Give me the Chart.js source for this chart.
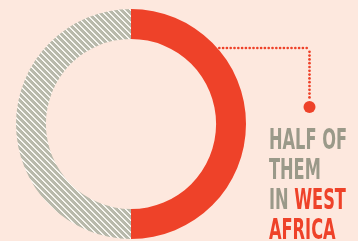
<!DOCTYPE html>
<html><head><meta charset="utf-8">
<script src="https://cdn.jsdelivr.net/npm/chart.js@4/dist/chart.umd.min.js"></script>
<style>html,body{margin:0;padding:0;background:#FDE8DE;}#wrap{width:358px;height:241px;position:relative;}</style>
</head><body><div id="wrap"><canvas id="c" width="358" height="241"></canvas></div>
<script>
const categories = ["West Africa", "Elsewhere"];
const values = [50, 50];
const labelLines = [["HALF OF"], ["THEM"], ["IN ", "WEST"], ["AFRICA"]];

const RED = "#EE4229";
const GRAY_TXT = "#9A9989";

function makeHatch(){
  const n = 6;
  const t = document.createElement("canvas"); t.width = n; t.height = n;
  const g = t.getContext("2d");
  const img = g.createImageData(n, n);
  for (let y = 0; y < n; y++) for (let x = 0; x < n; x++) {
    const k = ((x - y) % n + n) % n;
    let c = [184, 185, 171];
    if (k === 0) c = [253, 251, 247];
    else if (k === 1) c = [240, 239, 232];
    const i = (y * n + x) * 4;
    img.data[i] = c[0]; img.data[i+1] = c[1]; img.data[i+2] = c[2]; img.data[i+3] = 255;
  }
  g.putImageData(img, 0, 0);
  return g.createPattern(t, "repeat");
}

const annot = {
  id: "annot",
  afterDraw(chart) {
    const ctx = chart.ctx;
    const arc = chart.getDatasetMeta(0).data[0];
    const cx = arc.x, cy = arc.y, R = arc.outerRadius;
    ctx.save();
    const yH = 48, xEnd = 309.5, yEnd = 107;
    const xStart = cx + Math.sqrt(R * R - (cy - yH) * (cy - yH)) + 2;
    ctx.fillStyle = RED;
    const step = 3.8, r = 1.35;
    for (let x = xStart; x <= xEnd + 0.1; x += step) { ctx.beginPath(); ctx.arc(x, yH, r, 0, Math.PI * 2); ctx.fill(); }
    for (let y = yH + step; y <= yEnd - 6; y += step) { ctx.beginPath(); ctx.arc(xEnd, y, r, 0, Math.PI * 2); ctx.fill(); }
    ctx.beginPath(); ctx.arc(xEnd, yEnd, 6, 0, Math.PI * 2); ctx.fill();
    ctx.font = "bold 28px 'Liberation Sans Narrow', 'DejaVu Sans Condensed', 'Liberation Sans', sans-serif";
    ctx.textBaseline = "alphabetic";
    const w0 = ctx.measureText("HALF OF").width;
    const sx = 78 / w0;
    const x0 = 269, baselines = [149, 179, 209, 238.5];
    labelLines.forEach((parts, i) => {
      ctx.save();
      ctx.translate(x0, baselines[i]);
      ctx.scale(sx, 1);
      let x = 0;
      parts.forEach((p, j) => {
        ctx.fillStyle = (i === 2 && j === 1) || i === 3 ? RED : GRAY_TXT;
        ctx.fillText(p, x, 0);
        x += ctx.measureText(p).width;
      });
      ctx.restore();
    });
    ctx.restore();
  }
};

new Chart(document.getElementById("c"), {
  type: "doughnut",
  data: {
    labels: categories,
    datasets: [{
      data: values,
      backgroundColor: [RED, makeHatch()],
      borderWidth: 0,
      hoverOffset: 0
    }]
  },
  options: {
    responsive: false,
    animation: false,
    cutout: "74%",
    layout: { padding: { left: 16, top: 9, right: 112, bottom: 2 } },
    plugins: { legend: { display: false }, tooltip: { enabled: false } },
    events: []
  },
  plugins: [annot]
});
</script></body></html>
